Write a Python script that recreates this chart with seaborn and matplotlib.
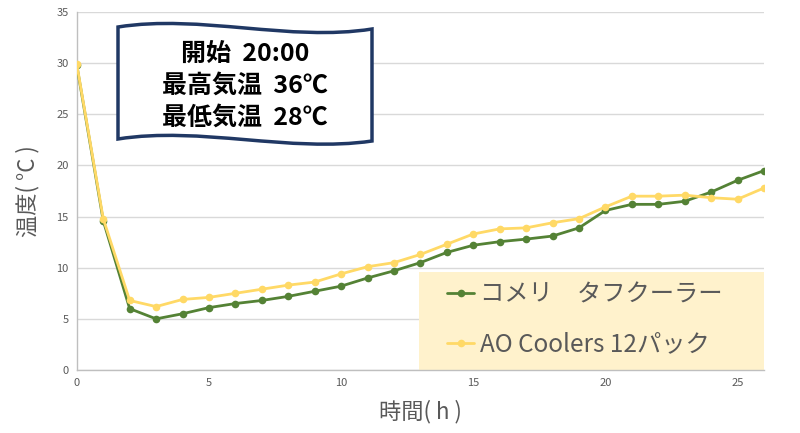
import matplotlib
matplotlib.use("Agg")
import matplotlib.pyplot as plt
from matplotlib.path import Path
from matplotlib.patches import PathPatch, Rectangle
import pandas as pd
import seaborn as sns

hours = list(range(27))
komeri = [29.8, 14.6, 6.0, 5.0, 5.5, 6.1, 6.5, 6.8, 7.2, 7.7, 8.2, 9.0, 9.7,
          10.5, 11.5, 12.2, 12.55, 12.8, 13.1, 13.9, 15.6, 16.2, 16.2, 16.5,
          17.4, 18.55, 19.5]
ao_coolers = [29.9, 14.8, 6.8, 6.2, 6.9, 7.1, 7.5, 7.9, 8.3, 8.6, 9.4, 10.1,
              10.5, 11.3, 12.3, 13.3, 13.8, 13.9, 14.4, 14.8, 15.95, 17.0,
              17.0, 17.1, 16.85, 16.7, 17.8]
series_names = ["コメリ\u3000タフクーラー", "AO Coolers 12パック"]
x_ticks = [0, 5, 10, 15, 20, 25]
y_ticks = [0, 5, 10, 15, 20, 25, 30, 35]
flag_lines = ["開始  20:00", "最高気温  36℃", "最低気温  28℃"]

GREEN = "#548235"
YELLOW = "#FFD966"
GRAY = "#595959"

sns.set_theme(style="white")
plt.rcParams["font.family"] = ["Noto Sans CJK JP", "DejaVu Sans"]

df = pd.DataFrame({"hour": hours, "komeri": komeri, "ao": ao_coolers})

fig = plt.figure(figsize=(8, 4.33), dpi=100)
ax = fig.add_axes([0.096, 0.1455, 0.859, 0.8265])

sns.lineplot(data=df, x="hour", y="komeri", color=GREEN, marker="o",
             markersize=5.5, markeredgewidth=0, linewidth=2,
             label=series_names[0], ax=ax, zorder=3)
sns.lineplot(data=df, x="hour", y="ao", color=YELLOW, marker="o",
             markersize=5.5, markeredgewidth=0, linewidth=2,
             label=series_names[1], ax=ax, zorder=4)

ax.set_xlim(0, 26)
ax.set_ylim(0, 35)
ax.set_xticks(x_ticks)
ax.set_yticks(y_ticks)
ax.tick_params(axis="both", length=0, labelsize=8, labelcolor=GRAY, pad=6)
ax.yaxis.grid(True, color="#D9D9D9", linewidth=1)
ax.xaxis.grid(False)
for s in ["top", "right"]:
    ax.spines[s].set_visible(False)
for s in ["left", "bottom"]:
    ax.spines[s].set_color("#BFBFBF")
    ax.spines[s].set_linewidth(1)

ax.set_xlabel("時間( h )", fontsize=16, color=GRAY, labelpad=8)
ax.set_ylabel("温度( °C )", fontsize=16, color=GRAY, labelpad=12)

# legend background box
ax.add_patch(Rectangle((0.498, 0.0), 0.502, 0.274, transform=ax.transAxes,
                       facecolor="#FFF2CC", edgecolor="none", zorder=2))
leg = ax.legend(loc="center left", bbox_to_anchor=(0.539, 0.142),
                fontsize=17.5, frameon=False,
                handlelength=1.1, handletextpad=0.25, labelspacing=1.0,
                borderpad=0, borderaxespad=0)
for t in leg.get_texts():
    t.set_color(GRAY)
leg.set_zorder(2.5)

# wavy flag annotation (figure pixel coords)
W, H = 800, 433
def fp(x, y):
    return (x / W, 1 - y / H)

verts = [fp(118, 27), fp(200, 14), fp(290, 42), fp(372, 29),
         fp(372, 141),
         fp(290, 153), fp(200, 126), fp(118, 139),
         fp(118, 27)]
codes = [Path.MOVETO, Path.CURVE4, Path.CURVE4, Path.CURVE4,
         Path.LINETO,
         Path.CURVE4, Path.CURVE4, Path.CURVE4,
         Path.CLOSEPOLY]
flag = PathPatch(Path(verts, codes), facecolor="white", edgecolor="#203864",
                 linewidth=2.5, transform=fig.transFigure, zorder=5)
fig.patches.append(flag)

for line, y in zip(flag_lines, [54, 86, 118]):
    fig.text(245 / W, 1 - y / H, line, ha="center", va="center",
             fontsize=18, fontweight="bold", color="black", zorder=6)

fig.savefig("out.png", dpi=100)
